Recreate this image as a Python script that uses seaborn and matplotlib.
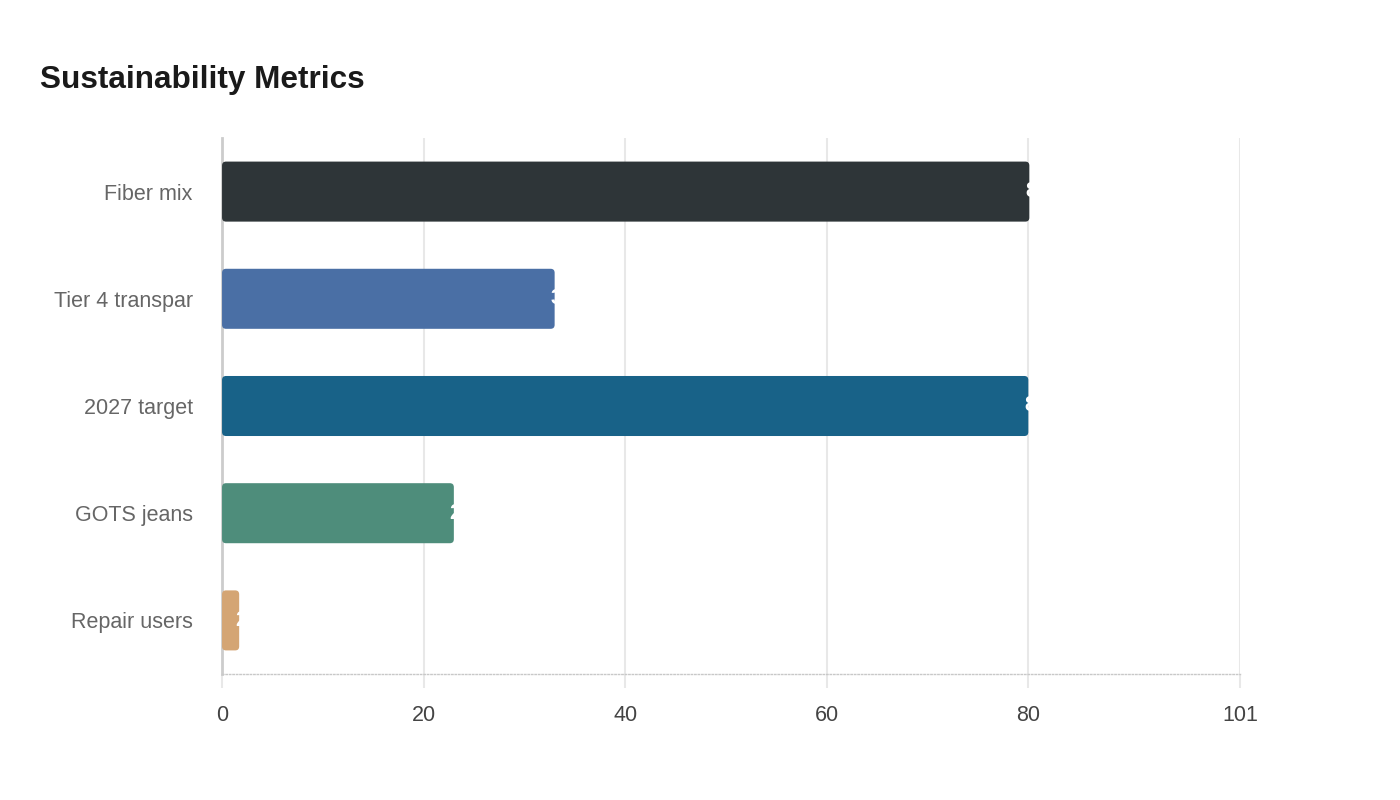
import pandas as pd
import matplotlib.pyplot as plt
import seaborn as sns
from matplotlib.patches import FancyBboxPatch

# data
categories = ["Fiber mix", "Tier 4 transpar", "2027 target", "GOTS jeans", "Repair users"]
values = [80.1, 33, 80, 23, 1.7]
bar_colors = ["#2e3538", "#4a6fa5", "#186288", "#4e8d7b", "#d4a574"]
x_ticks = [0, 20, 40, 60, 80, 101]

df = pd.DataFrame({"category": categories, "value": values})

sns.set_style("white")
plt.rcParams["font.family"] = ["Liberation Sans", "DejaVu Sans"]

fig = plt.figure(figsize=(14, 8), dpi=100)
ax = fig.add_axes([0.1586, 0.1575, 0.7271, 0.67])

sns.barplot(data=df, y="category", x="value", hue="category",
            palette=bar_colors, saturation=1, orient="h", width=0.56,
            legend=False, ax=ax)

ax.set_xlim(0, 101)
ax.set_ylim(4.5, -0.5)

# swap the square bars for rounded ones
x_per_px = 101 / (0.7271 * 1400)
y_per_px = 5 / (0.67 * 800)
aspect = y_per_px / x_per_px
for p in list(ax.patches):
    x0, y0, w, h = p.get_x(), p.get_y(), p.get_width(), p.get_height()
    fc = p.get_facecolor()
    p.remove()
    ax.add_patch(FancyBboxPatch((x0, y0), w, h,
                                boxstyle=f"round,pad=0,rounding_size={4 * x_per_px}",
                                mutation_aspect=aspect, facecolor=fc,
                                edgecolor="none", zorder=3))

# value labels sitting at the bar ends (white, mostly outside the bar)
for i, v in enumerate(values):
    ax.annotate(f"{v:.0f}", xy=(v, i), xytext=(-3, 0), textcoords="offset points",
                ha="left", va="center", color="white", fontsize=15.5,
                fontweight="bold", zorder=4)

ax.set_xticks(x_ticks)
ax.set_xticklabels([str(t) for t in x_ticks])
ax.grid(axis="x", color="#e8e8e8", linewidth=1.5, zorder=0)
ax.grid(axis="y", visible=False)
ax.set_axisbelow(True)

ax.tick_params(axis="x", bottom=True, length=10, width=1.5, color="#e8e8e8",
               pad=12, labelsize=15.5, labelcolor="#444444")
ax.tick_params(axis="y", left=False, length=0, pad=21, labelsize=15.5,
               labelcolor="#666666")

for side in ["top", "right"]:
    ax.spines[side].set_visible(False)
ax.spines["left"].set_color("#cccccc")
ax.spines["left"].set_linewidth(2)
ax.spines["bottom"].set_color("#c8c8c8")
ax.spines["bottom"].set_linewidth(1)
ax.spines["bottom"].set_linestyle((0, (1, 1.5)))

ax.set_xlabel("")
ax.set_ylabel("")

fig.text(40 / 1400, 1 - 80 / 800, "Sustainability Metrics", fontsize=22.7,
         fontweight="bold", color="#1a1a1a", ha="left", va="center")

fig.savefig("out.png", dpi=100, facecolor="white")
